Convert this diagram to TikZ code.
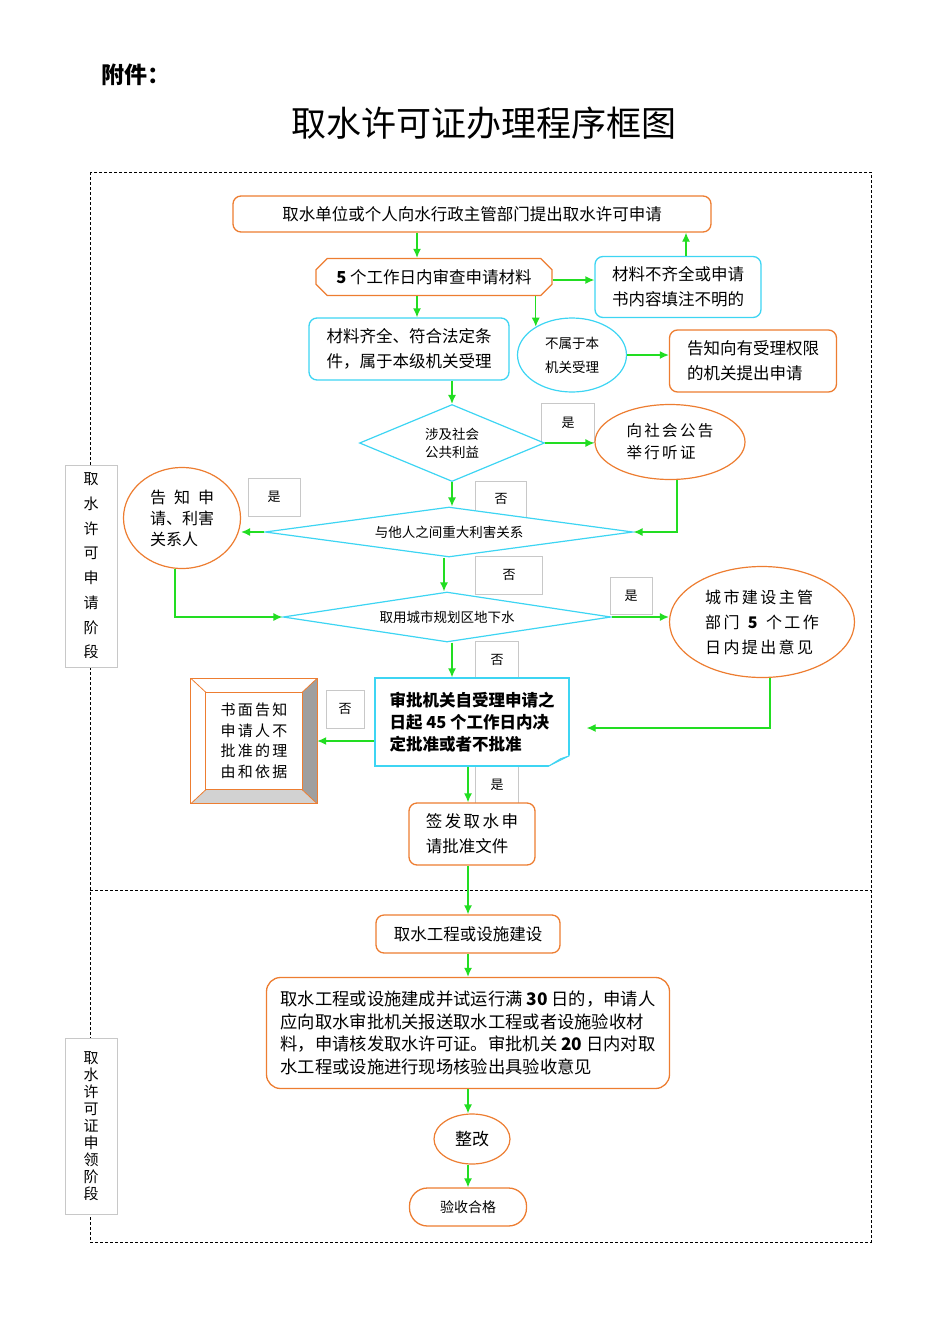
\documentclass[tikz,border=0pt]{standalone}
\usepackage{fontspec}
\setmainfont{Noto Sans CJK SC}
\newfontfamily\cjkwide[LetterSpace=15]{Noto Sans CJK SC}
\usepackage{tikz}
\usetikzlibrary{arrows.meta,calc,shapes.geometric,shapes.misc}
\definecolor{BoxOrange}{HTML}{ED7D31}
\definecolor{BoxCyan}{HTML}{3DD5F3}
\definecolor{FlowGreen}{HTML}{22DD22}
\definecolor{TagGray}{HTML}{C8C8C8}
\definecolor{FoldGray}{HTML}{A9C6D2}
\newcommand{\fsz}[2]{\fontsize{#1}{#2}\selectfont}

\begin{document}
\begin{tikzpicture}[
    x=1pt, y=-1pt,
    orangebox/.style={
      draw=BoxOrange,
      fill=white,
      line width=1.3pt,
      rounded corners=8pt,
      inner sep=0pt,
      align=center,
      font=\fsz{16.5}{25}
    },
    cyanbox/.style={
      orangebox,
      draw=BoxCyan
    },
    orangeoval/.style={
      ellipse,
      draw=BoxOrange,
      fill=white,
      line width=1.2pt,
      inner sep=0pt,
      align=center
    },
    cyanoval/.style={
      orangeoval,
      draw=BoxCyan
    },
    decision/.style={
      diamond,
      draw=BoxCyan,
      fill=white,
      line width=1.2pt,
      inner sep=0pt,
      align=center,
      font=\fsz{13.5}{18}
    },
    tag/.style={
      draw=TagGray,
      line width=0.5pt,
      inner sep=0pt,
      font=\fsz{13}{15}
    },
    phase/.style={
      draw=TagGray,
      fill=white,
      line width=0.6pt,
      inner sep=0pt,
      align=center
    },
    flow/.style={
      -{Latex[length=9pt,width=8pt]},
      draw=FlowGreen,
      line width=1.3pt
    }
  ]

  \useasboundingbox (0,0) rectangle (950,1344);

  \node[font=\bfseries\fsz{23}{23}, anchor=west] (annex) at (98,75) {附件：};
  \node[font=\fsz{35}{35}] (title) at (484,123) {取水许可证办理程序框图};

  % dashed frame and the two phases
  \draw[densely dashed, line width=0.6pt] (90,172) rectangle (871,1242);
  \draw[densely dashed, line width=0.6pt] (90,890) -- (871,890);
  \node[phase, minimum width=52, minimum height=202, font=\fsz{15}{24.7}] (phaseapply) at (91,566)
    {取\\水\\许\\可\\申\\请\\阶\\段};
  \node[phase, minimum width=52, minimum height=176, font=\fsz{15}{17}] (phaselicence) at (91,1126)
    {取\\水\\许\\可\\证\\申\\领\\阶\\段};

  % yes / no tags
  \node[tag, minimum width=53, minimum height=39] (yes1) at (568,423) {是};
  \node[tag, minimum width=51, minimum height=36] (no1)  at (501,499) {否};
  \node[tag, minimum width=52, minimum height=38] (yes2) at (274,497) {是};
  \node[tag, minimum width=67, minimum height=38] (no2)  at (509,575) {否};
  \node[tag, minimum width=42, minimum height=37] (yes3) at (631,596) {是};
  \node[tag, minimum width=43, minimum height=38] (no3)  at (497,660) {否};
  \node[tag, minimum width=38, minimum height=38] (no4)  at (345,709) {否};
  \node[tag, minimum width=43, minimum height=37] (yes4) at (497,785) {是};

  % application phase
  \node[orangebox, minimum width=478, minimum height=36] (apply) at (472,214)
    {取水单位或个人向水行政主管部门提出取水许可申请};
  \node[orangebox, chamfered rectangle, chamfered rectangle xsep=10pt, rounded corners=0pt,
        minimum width=236, minimum height=37] (review) at (434,277)
    {\textbf{5} 个工作日内审查申请材料};
  \node[cyanbox, minimum width=166, minimum height=61, align=left] (incomplete) at (678,287)
    {材料不齐全或申请\\书内容填注不明的};
  \node[cyanbox, minimum width=200, minimum height=62, align=left] (accept) at (409,349)
    {材料齐全、符合法定条\\件，属于本级机关受理};
  \node[cyanoval, minimum width=109, minimum height=74, font=\fsz{13.5}{24}] (notours) at (572,355)
    {不属于本\\机关受理};
  \node[orangebox, minimum width=167, minimum height=62, align=left] (redirect) at (753,361)
    {告知向有受理权限\\的机关提出申请};
  \node[decision, aspect=2.4, minimum width=185, minimum height=77] (public) at (452,443)
    {涉及社会\\公共利益};
  \node[orangeoval, minimum width=150, minimum height=75, align=left,
        font=\cjkwide\fsz{15.5}{22}] (hearing) at (670,442)
    {向社会公告\\举行听证};
  \node[decision, aspect=7.36, minimum width=368, minimum height=50] (interest) at (449,532)
    {与他人之间重大利害关系};
  \node[orangeoval, minimum width=117, minimum height=101, align=left,
        font=\fsz{16}{21}] (notify) at (182,518)
    {告\hspace{.5em}知\hspace{.5em}申\\请、利害\\关系人};
  \node[decision, aspect=6.56, minimum width=328, minimum height=50] (groundwater) at (447,617)
    {取用城市规划区地下水};
  \node[orangeoval, minimum width=185, minimum height=111, align=left,
        font=\cjkwide\fsz{16}{25}] (urban) at (762,622)
    {城市建设主管\\部门 \textbf{5} 个工作\\日内提出意见};
  \node[cyanbox, rounded corners=0pt, minimum width=194, minimum height=88, align=left,
        font=\bfseries\fsz{16.5}{22}] (decide) at (472,722)
    {审批机关自受理申请之\\日起 45 个工作日内决\\定批准或者不批准};
  \node[minimum width=126, minimum height=125, inner sep=0pt, align=left,
        font=\cjkwide\fsz{15}{20.5}] (refuse) at (254,741)
    {书面告知\\申请人不\\批准的理\\由和依据};
  \node[orangebox, minimum width=126, minimum height=62, align=left] (issue) at (472,834)
    {{\cjkwide 签发取水申}\\请批准文件};

  % folded corner of the decision box
  \fill[white] ([xshift=-23pt,yshift=-1pt]decide.south east) -- ([xshift=1pt,yshift=-1pt]decide.south east)
    -- ([xshift=1pt,yshift=12pt]decide.south east) -- cycle;
  \filldraw[draw=BoxCyan, fill=FoldGray, line width=0.8pt]
    ([xshift=-22pt]decide.south east) -- ([yshift=11pt]decide.south east)
    -- ([xshift=-9pt,yshift=8pt]decide.south east) -- cycle;

  % bevelled box
  \fill[gray!75] (refuse.north east) -- (refuse.south east)
    -- ([xshift=-15pt,yshift=14pt]refuse.south east) -- ([xshift=-15pt,yshift=-14pt]refuse.north east) -- cycle;
  \fill[gray!35] (refuse.south west) -- (refuse.south east)
    -- ([xshift=-15pt,yshift=14pt]refuse.south east) -- ([xshift=15pt,yshift=14pt]refuse.south west) -- cycle;
  \draw[BoxOrange, line width=1.2pt] (refuse.north west) rectangle (refuse.south east);
  \draw[BoxOrange, line width=1pt] ([xshift=15pt,yshift=-14pt]refuse.north west)
    rectangle ([xshift=-15pt,yshift=14pt]refuse.south east);
  \foreach \c/\dx/\dy in {north west/15/-14, north east/-15/-14, south west/15/14, south east/-15/14}
    \draw[BoxOrange, line width=0.8pt] (refuse.\c) -- ([xshift=\dx pt,yshift=\dy pt]refuse.\c);

  % licence phase
  \node[orangebox, minimum width=184, minimum height=38] (build) at (468,934)
    {取水工程或设施建设};
  \node[orangebox, rounded corners=14pt, minimum width=403, minimum height=111, align=left,
        font=\fsz{17.3}{22.5}] (inspect) at (468,1033)
    {取水工程或设施建成并试运行满 \textbf{30} 日的，申请人\\
     应向取水审批机关报送取水工程或者设施验收材\\
     料，申请核发取水许可证。审批机关 \textbf{20} 日内对取\\
     水工程或设施进行现场核验出具验收意见};
  \node[orangeoval, minimum width=76, minimum height=50, font=\fsz{17}{17}] (rectify) at (472,1139)
    {整改};
  \node[orangebox, rounded corners=18pt, minimum width=117, minimum height=38,
        font=\fsz{14}{14}] (pass) at (468,1207)
    {\raisebox{-5pt}{验收合格}};

  % connectors
  \draw[flow] ([xshift=-17pt]review.north |- apply.south) -- ([xshift=-17pt]review.north);
  \draw[flow] ([yshift=-3pt]review.east) -- ([yshift=-3pt]review.east -| incomplete.west);
  \draw[flow] ([xshift=8pt]incomplete.north) -- ([xshift=8pt]incomplete.north |- apply.south);
  \draw[flow] ([xshift=-17pt]review.south) -- ([xshift=-17pt]review.south |- accept.north);
  \draw[flow] (notours.142 |- review.south) -- (notours.142);
  \draw[flow] (notours.east) -- (notours.east -| redirect.west);
  \draw[flow] (public.north |- accept.south) -- (public.north);
  \draw[flow] (public.east) -- (public.east -| hearing.west);
  \draw[flow] (public.south) -- (public.south |- interest.north);
  \draw[flow] ([xshift=7pt]hearing.south) |- (interest.east);
  \draw[flow] (interest.west) -- (interest.west -| notify.east);
  \draw[flow] ([xshift=-7pt]notify.south) |- (groundwater.west);
  \draw[flow] ([xshift=-5pt]interest.south) -- ([xshift=-5pt]interest.south |- groundwater.north);
  \draw[flow] (groundwater.east) -- (groundwater.east -| urban.west);
  \draw[flow] ([xshift=5pt]groundwater.south) -- ([xshift=5pt]groundwater.south |- decide.north);
  \draw[flow] ([xshift=8pt]urban.south) |- ([xshift=17pt,yshift=-6pt]decide.east);
  \draw[flow] ([yshift=-19pt]decide.west) -- ([yshift=-19pt]decide.west -| refuse.east);

  \foreach \a/\b in {decide/issue, issue/build, build/inspect, inspect/rectify, rectify/pass}
    \draw[flow] (\a.south -| build) -- (\b.north -| build);

\end{tikzpicture}
\end{document}
